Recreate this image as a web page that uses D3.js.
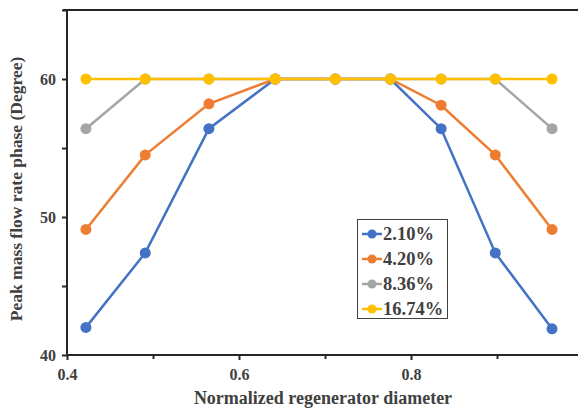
<!DOCTYPE html>
<html>
<head>
<meta charset="utf-8">
<script src="https://cdn.jsdelivr.net/npm/d3@7"></script>
<style>
  body { margin: 0; background: #fff; }
  text { font-family: "Liberation Serif", "Times New Roman", serif; font-weight: bold; fill: #404040; }
</style>
</head>
<body>
<svg id="chart" width="578" height="409"></svg>
<script>
// values
var diameters = [0.422, 0.491, 0.565, 0.642, 0.712, 0.776, 0.835, 0.898, 0.964]
var seriesNames = ["2.10%", "4.20%", "8.36%", "16.74%"]
var seriesColors = ["#4472C4", "#ED7D31", "#A5A5A5", "#FFC000"]
var phase210 = [42.0, 47.4, 56.4, 60, 60, 60, 56.4, 47.4, 41.9]
var phase420 = [49.1, 54.5, 58.2, 60, 60, 60, 58.1, 54.5, 49.1]
var phase836 = [56.4, 60, 60, 60, 60, 60, 60, 60, 56.4]
var phase1674 = [60, 60, 60, 60, 60, 60, 60, 60, 60]
var xTicks = [0.4, 0.6, 0.8, 1.0]
var yTicks = [40, 50, 60]

var allSeries = [phase210, phase420, phase836, phase1674]

var svg = d3.select("#chart")

var x = d3.scaleLinear().domain([0.4, 1.0]).range([67, 583])
var y = d3.scaleLinear().domain([40, 65]).range([355, 10])

// top border of the plot box
svg.append("line")
  .attr("x1", 63).attr("x2", 590)
  .attr("y1", y(65)).attr("y2", y(65))
  .attr("stroke", "#262626").attr("stroke-width", 2)

// minor ticks
var xAxisMinor = d3.axisBottom(x).tickValues([0.5, 0.7, 0.9]).tickSize(4).tickFormat("")
var yAxisMinor = d3.axisLeft(y).tickValues([45, 55, 65]).tickSize(5).tickFormat("")
svg.append("g").attr("transform", "translate(0," + y(40) + ")").call(xAxisMinor)
svg.append("g").attr("transform", "translate(" + x(0.4) + ",0)").call(yAxisMinor)

var xAxis = d3.axisBottom(x).tickValues(xTicks).tickSize(5).tickPadding(9)
  .tickFormat(function(d) { return d == 1 ? "1" : d3.format(".1f")(d) })
var yAxis = d3.axisLeft(y).tickValues(yTicks).tickSize(5).tickPadding(6)

var gx = svg.append("g").attr("transform", "translate(0," + y(40) + ")").call(xAxis)
var gy = svg.append("g").attr("transform", "translate(" + x(0.4) + ",0)").call(yAxis)

svg.selectAll(".domain").remove()
svg.selectAll(".tick line").attr("stroke", "#262626").attr("stroke-width", 2)
svg.selectAll(".tick text").style("font-size", "16px").attr("fill", "#404040")

// axis lines
svg.append("line")
  .attr("x1", x(0.4)).attr("x2", 590)
  .attr("y1", y(40)).attr("y2", y(40))
  .attr("stroke", "#262626").attr("stroke-width", 2)
svg.append("line")
  .attr("x1", x(0.4)).attr("x2", x(0.4))
  .attr("y1", y(65) - 1).attr("y2", y(40) + 1)
  .attr("stroke", "#262626").attr("stroke-width", 2)

// axis titles
svg.append("text")
  .attr("x", 323).attr("y", 404)
  .attr("text-anchor", "middle")
  .style("font-size", "18px")
  .text("Normalized regenerator diameter")

svg.append("text")
  .attr("transform", "translate(22,189) rotate(-90)")
  .attr("text-anchor", "middle")
  .style("font-size", "17.5px")
  .text("Peak mass flow rate phase (Degree)")

var line = d3.line()
  .x(function(d, i) { return x(diameters[i]) })
  .y(function(d) { return y(d) })

allSeries.forEach(function(values, s) {
  svg.append("path")
    .datum(values)
    .attr("d", line)
    .attr("fill", "none")
    .attr("stroke", seriesColors[s])
    .attr("stroke-width", 2.5)

  svg.selectAll(".dot" + s)
    .data(values)
  .enter().append("circle")
    .attr("class", "dot" + s)
    .attr("cx", function(d, i) { return x(diameters[i]) })
    .attr("cy", function(d) { return y(d) })
    .attr("r", 5.5)
    .attr("fill", seriesColors[s])
})

// legend
var legend = svg.append("g")
legend.append("rect")
  .attr("x", 357.5).attr("y", 219.5)
  .attr("width", 90).attr("height", 99)
  .attr("fill", "#fff")
  .attr("stroke", "#404040").attr("stroke-width", 1)

seriesNames.forEach(function(name, s) {
  var ly = 234 + s * 25
  legend.append("line")
    .attr("x1", 362).attr("x2", 382)
    .attr("y1", ly).attr("y2", ly)
    .attr("stroke", seriesColors[s]).attr("stroke-width", 2.5)
  legend.append("circle")
    .attr("cx", 372).attr("cy", ly).attr("r", 4.5)
    .attr("fill", seriesColors[s])
  legend.append("text")
    .attr("x", 383).attr("y", ly + 6)
    .style("font-size", "18.5px")
    .text(name)
})
</script>
</body>
</html>
